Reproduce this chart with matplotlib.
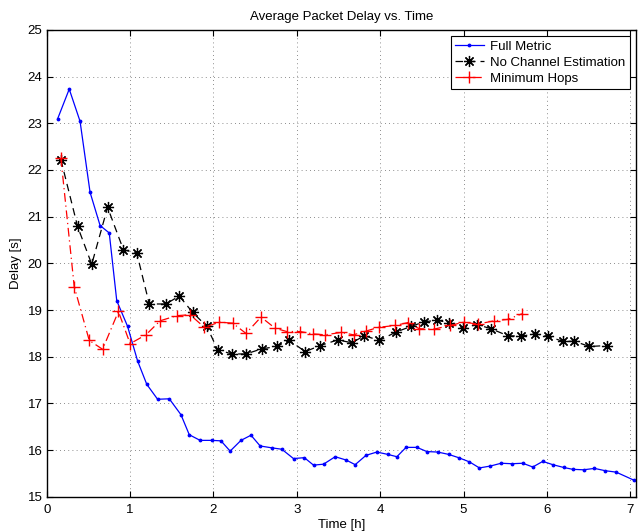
import matplotlib
matplotlib.use("Agg")
import matplotlib.pyplot as plt

plt.rcParams['font.family'] = ['Liberation Sans', 'DejaVu Sans']

title = "Average Packet Delay vs. Time"
xlabel = "Time [h]"
ylabel = "Delay [s]"
labels = ["Full Metric", "No Channel Estimation", "Minimum Hops"]

full_x = [0.13, 0.27, 0.40, 0.52, 0.64, 0.75, 0.84, 0.97, 1.09, 1.20,
          1.33, 1.47, 1.61, 1.71, 1.84, 1.98, 2.09, 2.20, 2.33, 2.45,
          2.56, 2.70, 2.82, 2.96, 3.09, 3.20, 3.32, 3.46, 3.59, 3.70,
          3.83, 3.96, 4.09, 4.20, 4.31, 4.44, 4.56, 4.69, 4.82, 4.94,
          5.07, 5.19, 5.32, 5.45, 5.58, 5.71, 5.83, 5.95, 6.07, 6.20,
          6.31, 6.44, 6.57, 6.70, 6.83, 7.04]
full_y = [23.09, 23.73, 23.04, 21.52, 20.81, 20.65, 19.20, 18.65, 17.91, 17.41,
          17.09, 17.10, 16.76, 16.33, 16.21, 16.21, 16.20, 15.98, 16.21, 16.32,
          16.09, 16.05, 16.02, 15.82, 15.84, 15.68, 15.70, 15.86, 15.79, 15.69,
          15.89, 15.96, 15.91, 15.86, 16.06, 16.06, 15.97, 15.96, 15.91, 15.84,
          15.75, 15.62, 15.66, 15.72, 15.71, 15.72, 15.64, 15.76, 15.69, 15.63,
          15.59, 15.58, 15.61, 15.56, 15.53, 15.36]

nce_x = [0.17, 0.37, 0.54, 0.73, 0.92, 1.08, 1.23, 1.43, 1.59, 1.75,
         1.92, 2.05, 2.22, 2.39, 2.58, 2.76, 2.91, 3.10, 3.28, 3.49,
         3.66, 3.81, 3.99, 4.19, 4.37, 4.53, 4.68, 4.83, 4.99, 5.16,
         5.33, 5.53, 5.69, 5.86, 6.01, 6.19, 6.33, 6.51, 6.72]
nce_y = [22.22, 20.79, 19.98, 21.20, 20.29, 20.22, 19.13, 19.13, 19.30, 18.95,
         18.65, 18.15, 18.06, 18.06, 18.17, 18.22, 18.35, 18.11, 18.24, 18.36,
         18.30, 18.45, 18.35, 18.53, 18.65, 18.75, 18.78, 18.73, 18.62, 18.69,
         18.60, 18.45, 18.44, 18.49, 18.44, 18.33, 18.33, 18.22, 18.24]

hops_x = [0.17, 0.33, 0.51, 0.67, 0.86, 1.00, 1.19, 1.36, 1.56, 1.72,
          1.89, 2.07, 2.23, 2.39, 2.57, 2.74, 2.88, 3.04, 3.19, 3.34,
          3.53, 3.68, 3.83, 3.98, 4.18, 4.33, 4.47, 4.64, 4.84, 5.00,
          5.17, 5.37, 5.53, 5.70]
hops_y = [22.25, 19.50, 18.35, 18.16, 18.97, 18.28, 18.47, 18.77, 18.88, 18.90,
          18.63, 18.74, 18.72, 18.50, 18.85, 18.61, 18.54, 18.54, 18.49, 18.47,
          18.52, 18.47, 18.55, 18.63, 18.67, 18.73, 18.60, 18.59, 18.67, 18.74,
          18.70, 18.77, 18.80, 18.92]

xticks = [0, 1, 2, 3, 4, 5, 6, 7]
yticks = [15, 16, 17, 18, 19, 20, 21, 22, 23, 24, 25]

fig = plt.figure(figsize=(6.4, 5.32), dpi=100)
ax = fig.add_axes([0.073, 0.066, 0.921, 0.878])

ax.plot(full_x, full_y, color='blue', linestyle='-', linewidth=0.9,
        marker='.', markersize=3.5, label=labels[0])
ax.plot(nce_x, nce_y, color='black', linestyle=(0, (6, 4)), linewidth=0.9,
        marker=(8, 2, 0), markersize=8, markeredgewidth=0.9, label=labels[1])
ax.plot(hops_x, hops_y, color='red', linestyle=(0, (7, 3, 1, 3)), linewidth=0.9,
        marker='+', markersize=9, markeredgewidth=1.0, label=labels[2])

ax.set_xlim(0, 7.07)
ax.set_ylim(15, 25)
ax.set_xticks(xticks)
ax.set_yticks(yticks)
ax.tick_params(direction='in', top=True, right=True, labelsize=9.5, length=4, width=0.8, pad=3)
ax.tick_params(axis='x', pad=5)
ax.grid(True, linestyle=(0, (1, 4)), color='black', linewidth=0.6, alpha=0.6)
for s in ax.spines.values():
    s.set_linewidth(1.0)

ax.set_title(title, fontsize=9.5, pad=7)
ax.set_xlabel(xlabel, fontsize=9.5, labelpad=2)
ax.set_ylabel(ylabel, fontsize=9.5, labelpad=4)

leg = ax.legend(loc='upper right', fontsize=9.5, frameon=True, fancybox=False,
                edgecolor='black', framealpha=1, borderpad=0.3, labelspacing=0.3,
                handlelength=2.2, handletextpad=0.5, borderaxespad=0.5)
leg.get_frame().set_linewidth(0.8)

fig.savefig("out.png", dpi=100)
